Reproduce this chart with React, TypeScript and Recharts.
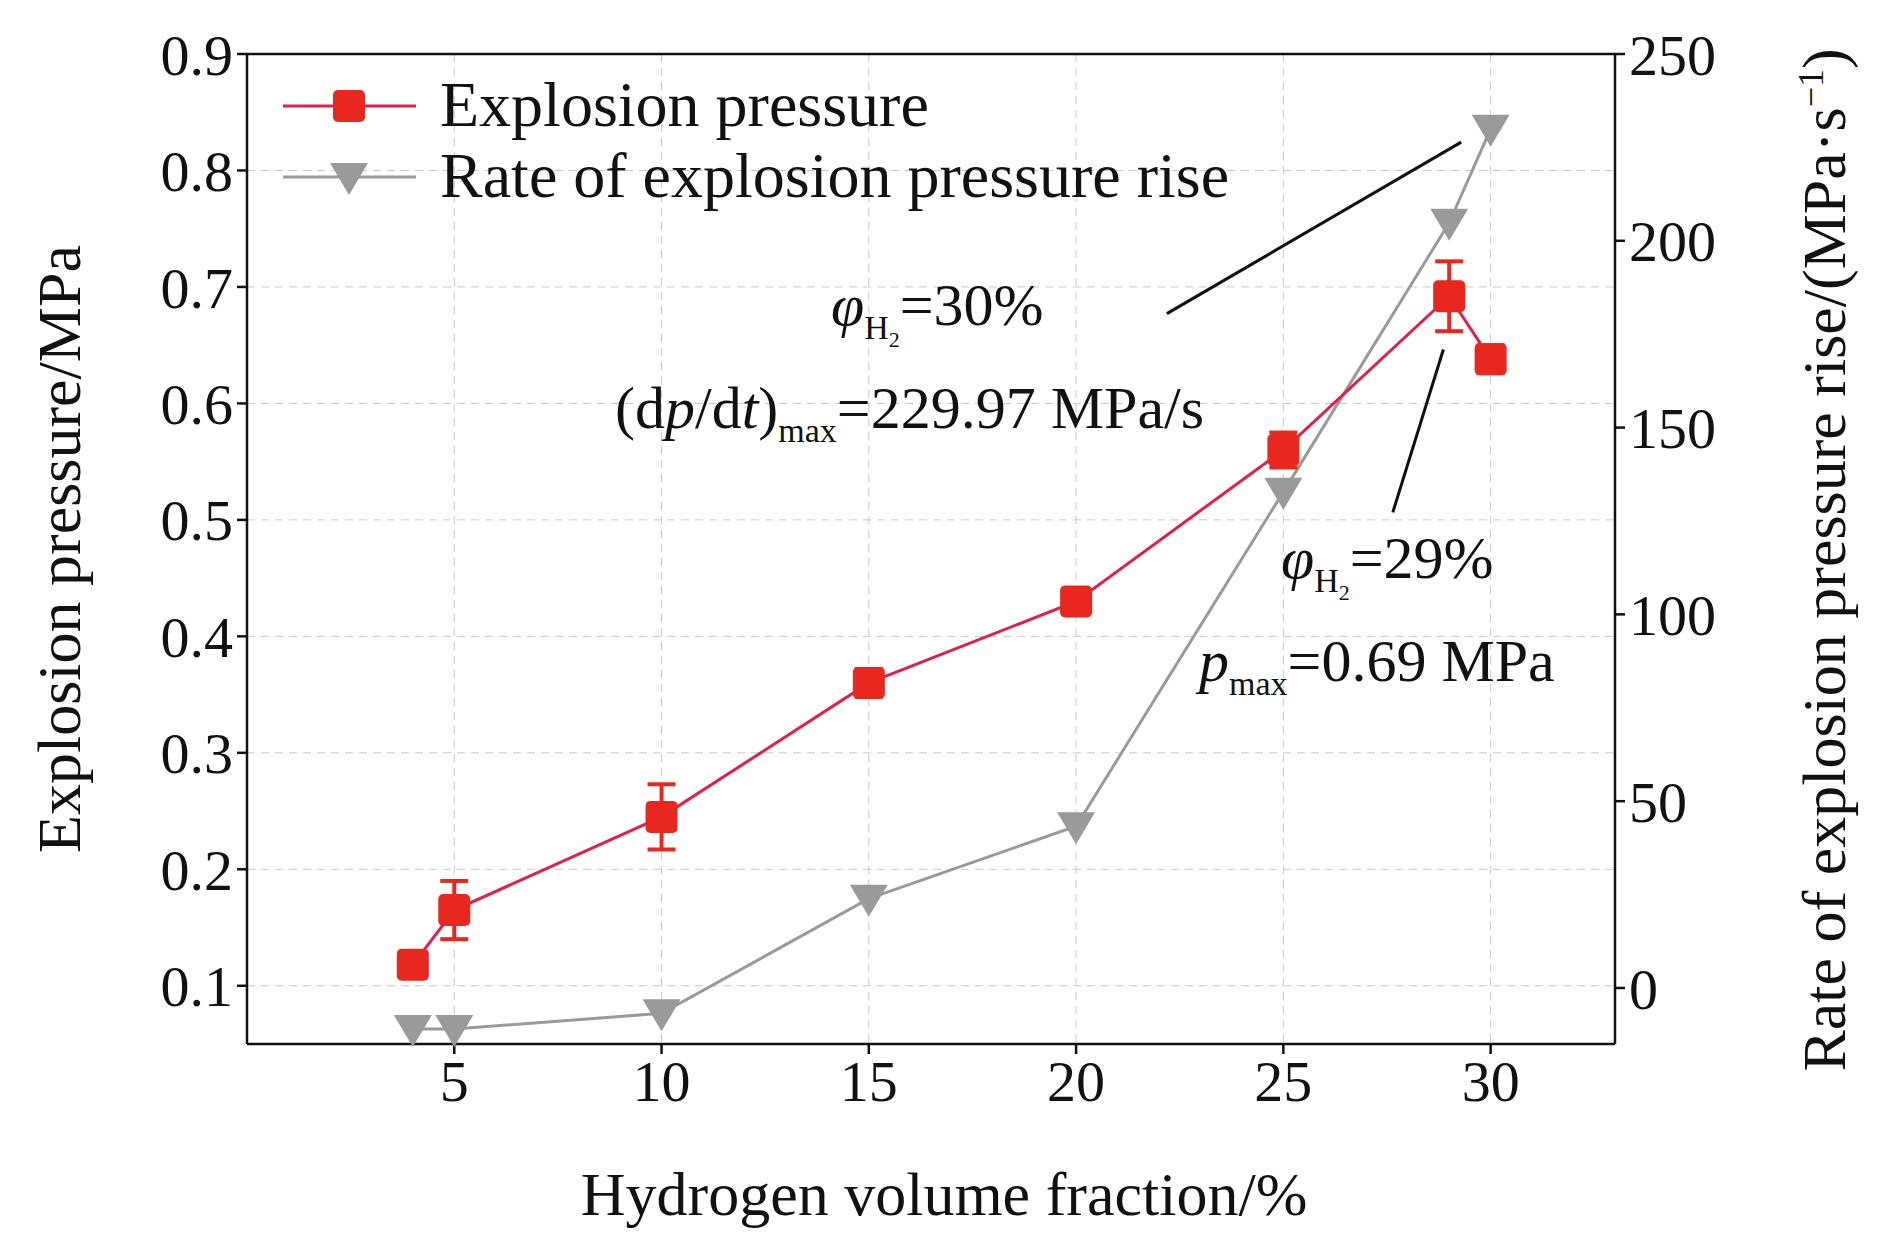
import { ComposedChart, Line, XAxis, YAxis, CartesianGrid, ErrorBar, ReferenceLine } from "recharts";

const fractions = [4, 5, 10, 15, 20, 25, 29, 30];
const pressure = [0.118, 0.165, 0.245, 0.36, 0.43, 0.56, 0.692, 0.638];
const pressureErr = [0.01, 0.025, 0.028, 0.012, 0.01, 0.015, 0.03, 0.012];
const rateRise = [-11, -11, -6.8, 23.9, 43.3, 132.8, 204.8, 229.97];
const xTicks = [5, 10, 15, 20, 25, 30];
const leftTicks = [0.1, 0.2, 0.3, 0.4, 0.5, 0.6, 0.7, 0.8, 0.9];
const rightTicks = [0, 50, 100, 150, 200, 250];

const data = fractions.map((x, i) => ({ x, p: pressure[i], err: pressureErr[i], r: rateRise[i] }));

const FONT = "'Liberation Serif', 'Times New Roman', serif";
const RED = "#e8281e";
const REDLINE = "#e0204a";
const GRAY = "#9a9a9a";
const tick = { fontSize: 58, fill: "#111", fontFamily: FONT };

const Square = (props: any) => {
  const { cx, cy } = props;
  if (cx == null || cy == null) return null;
  return <rect x={cx - 16} y={cy - 16} width={32} height={32} rx={5} fill={RED} />;
};
const Tri = (props: any) => {
  const { cx, cy } = props;
  if (cx == null || cy == null) return null;
  return <path d={`M${cx - 19},${cy - 14} L${cx + 19},${cy - 14} L${cx},${cy + 18} Z`} fill={GRAY} />;
};

export default function App() {
  return (
    <div style={{ position: "absolute", left: 0, top: 0, width: 1890, height: 1236, background: "#fff", fontFamily: FONT }}>
      <ComposedChart width={1890} height={1236} data={data} margin={{ top: 54, right: 0, left: 0, bottom: 0 }}>
        <CartesianGrid yAxisId="left" stroke="#c8c8c8" strokeDasharray="8 6" />
        <XAxis dataKey="x" type="number" domain={[0, 33]} ticks={xTicks} tick={tick} height={192}
          stroke="#111" strokeWidth={2.5} tickSize={10} tickMargin={6} />
        <YAxis yAxisId="left" domain={[0.05, 0.9]} ticks={leftTicks} tick={tick} width={247}
          stroke="#111" strokeWidth={2.5} tickSize={10} tickMargin={4} tickFormatter={(v) => v.toFixed(1)} />
        <YAxis yAxisId="right" orientation="right" domain={[-15, 250]} ticks={rightTicks} tick={tick} width={275}
          stroke="#111" strokeWidth={2.5} tickSize={10} tickMargin={4} />
        <ReferenceLine yAxisId="left" y={0.9} stroke="#111" strokeWidth={2.5} />
        <ReferenceLine yAxisId="right" segment={[{ x: 22.19, y: 180.5 }, { x: 29.29, y: 226.4 }]} stroke="#111" strokeWidth={3} />
        <ReferenceLine yAxisId="right" segment={[{ x: 27.64, y: 127.3 }, { x: 28.86, y: 170.9 }]} stroke="#111" strokeWidth={3} />
        <Line yAxisId="right" dataKey="r" stroke={GRAY} strokeWidth={3} dot={<Tri />} isAnimationActive={false} />
        <Line yAxisId="left" dataKey="p" stroke={REDLINE} strokeWidth={3} dot={<Square />} isAnimationActive={false}>
          <ErrorBar dataKey="err" stroke={RED} strokeWidth={4} width={14} />
        </Line>
      </ComposedChart>
      <svg width={1890} height={1236} style={{ position: "absolute", left: 0, top: 0, pointerEvents: "none" }} fontFamily={FONT} fill="#111">
        <line x1={283} y1={106} x2={416} y2={106} stroke={REDLINE} strokeWidth={3} />
        <rect x={333} y={90} width={32} height={32} rx={5} fill={RED} />
        <text x={440} y={126} fontSize={64}>Explosion pressure</text>
        <line x1={283} y1={177} x2={416} y2={177} stroke={GRAY} strokeWidth={3} />
        <path d="M330,163 L368,163 L349,195 Z" fill={GRAY} />
        <text x={440} y={197} fontSize={64}>Rate of explosion pressure rise</text>
        <text x={831} y={325} fontSize={60}><tspan fontStyle="italic">φ</tspan><tspan fontSize={34} dy={14}>H</tspan><tspan fontSize={22} dy={8}>2</tspan><tspan dy={-22}>=30%</tspan></text>
        <text x={615} y={428} fontSize={60}>(d<tspan fontStyle="italic">p</tspan>/d<tspan fontStyle="italic">t</tspan>)<tspan fontSize={34} dy={14}>max</tspan><tspan dy={-14}>=229.97 MPa/s</tspan></text>
        <text x={1281} y={578} fontSize={60}><tspan fontStyle="italic">φ</tspan><tspan fontSize={34} dy={14}>H</tspan><tspan fontSize={22} dy={8}>2</tspan><tspan dy={-22}>=29%</tspan></text>
        <text x={1199} y={681} fontSize={60}><tspan fontStyle="italic">p</tspan><tspan fontSize={34} dy={14}>max</tspan><tspan dy={-14}>=0.69 MPa</tspan></text>
        <text x={944} y={1215} fontSize={62} textAnchor="middle">Hydrogen volume fraction/%</text>
        <text transform="translate(80,549) rotate(-90)" fontSize={62} textAnchor="middle">Explosion pressure/MPa</text>
        <text transform="translate(1845,560) rotate(-90)" fontSize={62} textAnchor="middle">Rate of explosion pressure rise/(MPa·s<tspan fontSize={36} dy={-22}>−1</tspan><tspan dy={22}>)</tspan></text>
      </svg>
    </div>
  );
}
